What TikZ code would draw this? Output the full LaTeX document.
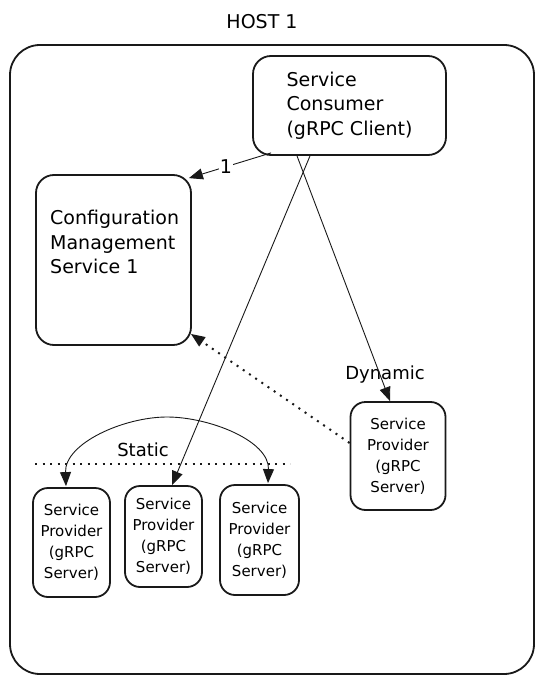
\documentclass[tikz,border=0pt]{standalone}
\usepackage{fontspec}
\setmainfont{DejaVu Sans}
\usetikzlibrary{arrows.meta,calc}
\begin{document}
\begin{tikzpicture}[x=1pt,y=-1pt,
  boxstyle/.style={draw=black!90, line width=1.8pt, rounded corners=18pt, inner sep=0pt},
  bigtext/.style={font=\fontsize{19}{24.5}\selectfont},
  smalltext/.style={font=\fontsize{15}{21}\selectfont},
  arr/.style={-{Triangle[length=14pt,width=11pt]}, line width=0.9pt, draw=black!90},
  dotline/.style={line width=2pt, dash pattern=on 2pt off 5.5pt, draw=black!90}
]
\useasboundingbox (0,0) rectangle (544,684);
% host label and box
\node[bigtext] (hostlabel) at (262,22) {HOST 1};
\node[draw=black!90, line width=1.8pt, rounded corners=30pt, minimum width=524pt, minimum height=629pt] (host) at (272,359.5) {};
% consumer
\node[boxstyle, minimum width=193pt, minimum height=99pt, bigtext, align=left] (consumer) at (349.5,105.5) {Service\\Consumer\\(gRPC Client)};
% config
\node[boxstyle, minimum width=155pt, minimum height=170pt] (config) at (113.5,260) {};
\node[bigtext, align=left, anchor=west, inner sep=0pt] (configtext) at (50,242) {Configuration\\Management\\Service 1};
% dynamic provider
\node[boxstyle, rounded corners=15pt, minimum width=95pt, minimum height=108pt, smalltext, align=center] (dyn) at (398,456) {Service\\Provider\\(gRPC\\Server)};
% static providers
\node[boxstyle, rounded corners=15pt, minimum width=77pt, minimum height=109pt, smalltext, align=center] (p1) at (71.5,542.5) {Service\\Provider\\(gRPC\\Server)};
\node[boxstyle, rounded corners=15pt, minimum width=77pt, minimum height=101pt, smalltext, align=center] (p2) at (163.5,536.5) {Service\\Provider\\(gRPC\\Server)};
\node[boxstyle, rounded corners=15pt, minimum width=79pt, minimum height=110pt, smalltext, align=center] (p3) at (259.5,540) {Service\\Provider\\(gRPC\\Server)};
% static divider
\coordinate (sl) at (35,464);
\coordinate (sr) at (290,464);
\draw[dotline] (sl) -- (sr);
\node[font=\fontsize{18}{22}\selectfont] (staticlabel) at (143,450) {Static};
\node[font=\fontsize{18}{22}\selectfont] (dynlabel) at (385,375) {Dynamic};
% arrows
\draw[arr] ($(consumer.south west)+(19,-3)$) -- node[pos=0.55, fill=white, inner sep=1pt, bigtext] (one) {1} ($(config.north east)+(-3,4)$);
\draw[arr] ($(consumer.south)+(-39.5,0)$) -- ($(p2.north)+(8.5,0)$);
\draw[arr] ($(consumer.south)+(-52.5,0)$) -- ($(dyn.north)+(-8,0)$);
\draw[{Triangle[length=14pt,width=11pt]}-{Triangle[length=14pt,width=11pt]}, line width=0.9pt, draw=black!90]
  ($(p1.north)+(-5.5,-1)$) to[out=92,in=180,looseness=0.9] (167,417) to[out=0,in=88,looseness=0.9] ($(p3.north)+(8.5,-1)$);
\draw[dotline, -{Triangle[length=14pt,width=11pt]}] ($(dyn.west)+(0,-13)$) -- ($(config.south east)+(-1,-12)$);
\end{tikzpicture}
\end{document}
